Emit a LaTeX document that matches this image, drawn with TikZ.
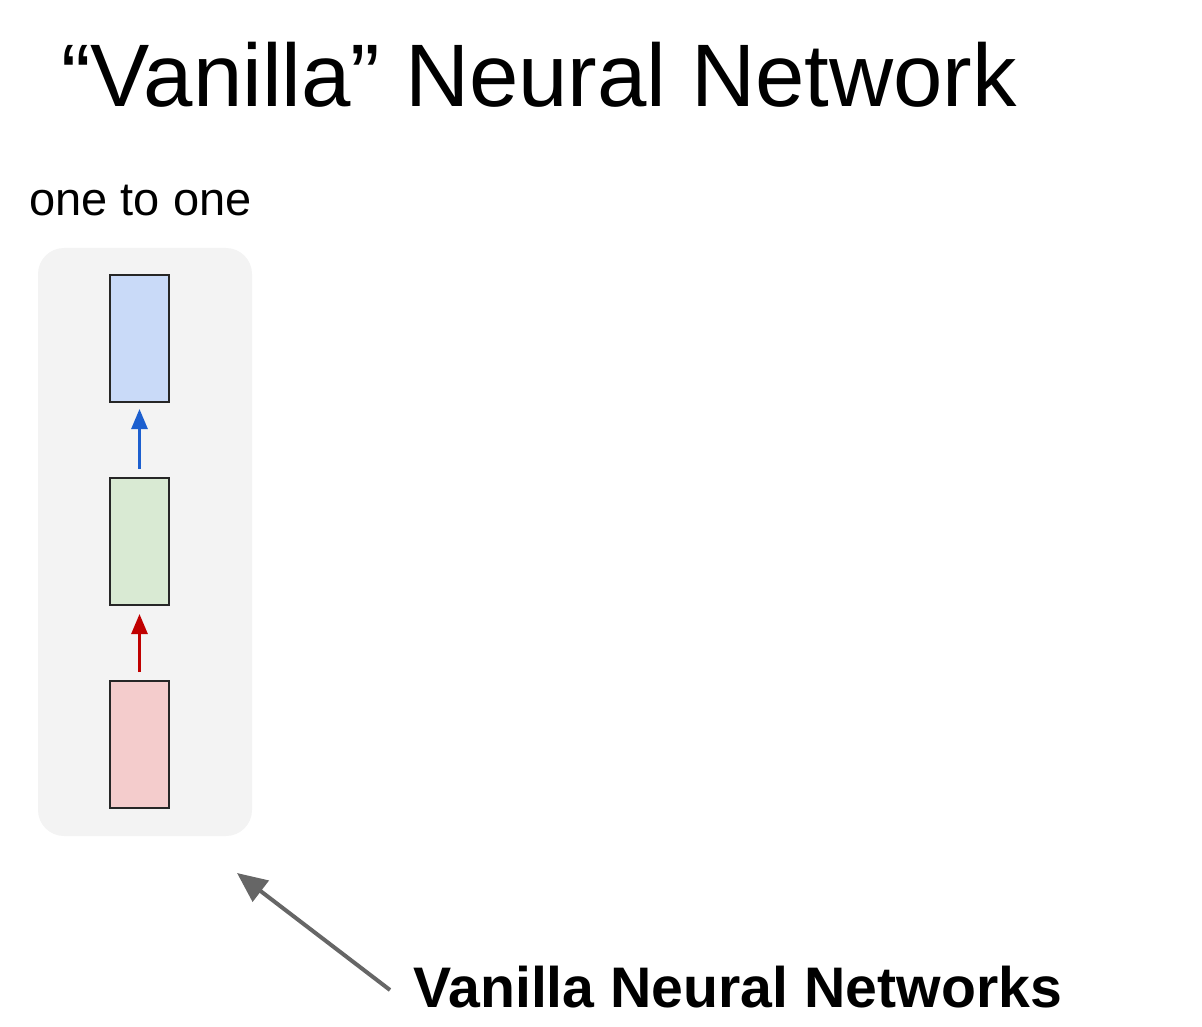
\documentclass[tikz,border=0pt]{standalone}
\usepackage{fontspec}
\setmainfont{Liberation Sans}
\usetikzlibrary{arrows.meta}
\definecolor{bgpanel}{HTML}{F3F3F3}
\definecolor{outblue}{HTML}{C9DAF8}
\definecolor{hidgreen}{HTML}{D9EAD3}
\definecolor{inred}{HTML}{F4CCCC}
\definecolor{arrblue}{HTML}{1C5FCF}
\definecolor{arrred}{HTML}{C00000}
\definecolor{arrgray}{HTML}{666666}
\tikzset{
  cellbox/.style={draw=black!85, line width=1pt, minimum width=29.5pt, minimum height=63.5pt, inner sep=0pt},
  flow/.style={line width=1.4pt, -{Triangle[length=10pt,width=8pt]}},
}
\begin{document}
\begin{tikzpicture}[x=0.5pt,y=-0.5pt]
\useasboundingbox (0,0) rectangle (1202,1026);
\node[anchor=base west, inner sep=0pt, font=\fontsize{44.4pt}{50pt}\selectfont] (title) at (61,107) {“Vanilla” Neural Network};
\node[anchor=base west, inner sep=0pt, font=\fontsize{23.5pt}{28pt}\selectfont] (cap) at (29,216) {one to one};
\node[fill=bgpanel, rounded corners=13pt, minimum width=107pt, minimum height=294pt, inner sep=0pt] (panel) at (145,542) {};
\node[cellbox, fill=outblue] (out) at (139.5,338.5) {};
\node[cellbox, fill=hidgreen] (hid) at (139.5,541.5) {};
\node[cellbox, fill=inred] (inp) at (139.5,744.5) {};
\draw[flow, draw=arrblue, fill=arrblue, shorten <=4pt, shorten >=3pt] (hid.north) -- (out.south);
\draw[flow, draw=arrred, fill=arrred, shorten <=4pt, shorten >=4pt] (inp.north) -- (hid.south);
\node[anchor=base west, inner sep=0pt, font=\bfseries\fontsize{28.6pt}{34pt}\selectfont] (lbl) at (413,1007) {Vanilla Neural Networks};
\coordinate (tail) at (390,990);
\coordinate (tip) at (237,873);
\draw[arrgray, line width=2pt, -{Triangle[length=15pt,width=13pt]}] (tail) -- (tip);
\end{tikzpicture}
\end{document}
